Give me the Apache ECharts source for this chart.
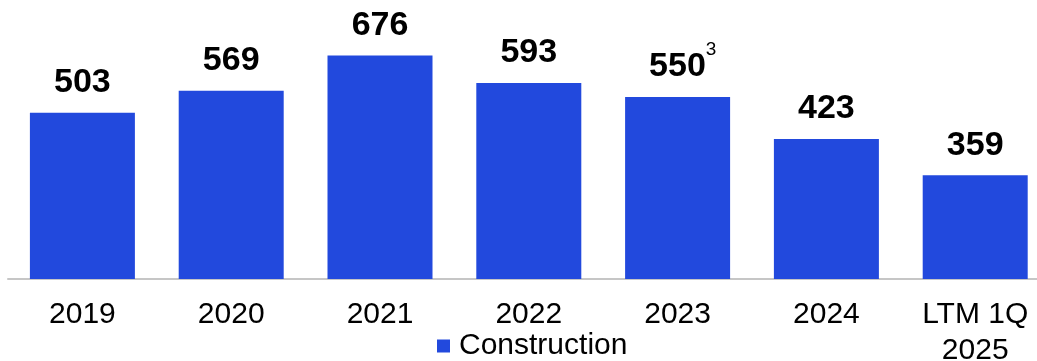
<!DOCTYPE html>
<html>
<head>
<meta charset="utf-8">
<style>
  html, body { margin: 0; padding: 0; background: #ffffff; }
  #chart { width: 1037px; height: 361px; }
</style>
<script src="https://cdn.jsdelivr.net/npm/echarts@6/dist/echarts.min.js"></script>
</head>
<body>
<div id="chart"></div>
<script>
const categories = ['2019', '2020', '2021', '2022', '2023', '2024', 'LTM 1Q\n2025'];
const barValues = [503, 569, 676, 593, 550, 423, 314];
const valueLabels = ['503', '569', '676', '593', '550', '423', '359'];
const footnotes = ['', '', '', '', '3', '', ''];
const seriesName = 'Construction';

const FONT = '"Liberation Sans", Arial, Helvetica, sans-serif';
const BLUE = '#2249DD';

const chart = echarts.init(document.getElementById('chart'), null, { renderer: 'canvas' });

const data = barValues.map((v, i) => {
  const item = { value: v };
  if (footnotes[i]) item.label = { offset: [5, 0] };
  return item;
});

chart.setOption({
  animation: false,
  backgroundColor: '#ffffff',
  grid: { left: 8, right: -12.6, top: 47.5, bottom: 82, containLabel: false, outerBoundsMode: 'none' },
  legend: {
    data: [seriesName],
    left: 437,
    top: 331,
    padding: 0,
    icon: 'rect',
    itemWidth: 13,
    itemHeight: 13,
    itemGap: 10,
    textStyle: { fontFamily: FONT, fontSize: 30, color: '#000000', padding: [0, 0, 0, 4] }
  },
  xAxis: {
    type: 'category',
    data: categories,
    axisLine: { show: true, lineStyle: { color: '#c6c6c6', width: 2 } },
    axisTick: { show: false },
    axisLabel: {
      interval: 0,
      margin: 18,
      fontFamily: FONT,
      fontSize: 30,
      lineHeight: 36,
      color: '#000000'
    },
    splitLine: { show: false }
  },
  yAxis: {
    type: 'value',
    min: 0,
    max: 700,
    show: false,
    splitLine: { show: false }
  },
  series: [{
    name: seriesName,
    type: 'bar',
    barWidth: 105,
    data: data,
    itemStyle: { color: BLUE },
    label: {
      show: true,
      position: 'top',
      distance: 13,
      formatter: (p) => {
        const i = p.dataIndex;
        let s = '{a|' + valueLabels[i] + '}';
        if (footnotes[i]) s = '{h| }' + s + '{s|' + footnotes[i] + '}';
        return s;
      },
      rich: {
        a: { fontFamily: FONT, fontSize: 34, fontWeight: 'bold', color: '#000000', lineHeight: 34, verticalAlign: 'bottom' },
        s: { fontFamily: FONT, fontSize: 19, color: '#000000', lineHeight: 19, verticalAlign: 'top' },
        h: { fontFamily: FONT, fontSize: 1, lineHeight: 44, verticalAlign: 'top' }
      }
    }
  }]
});
</script>
</body>
</html>
